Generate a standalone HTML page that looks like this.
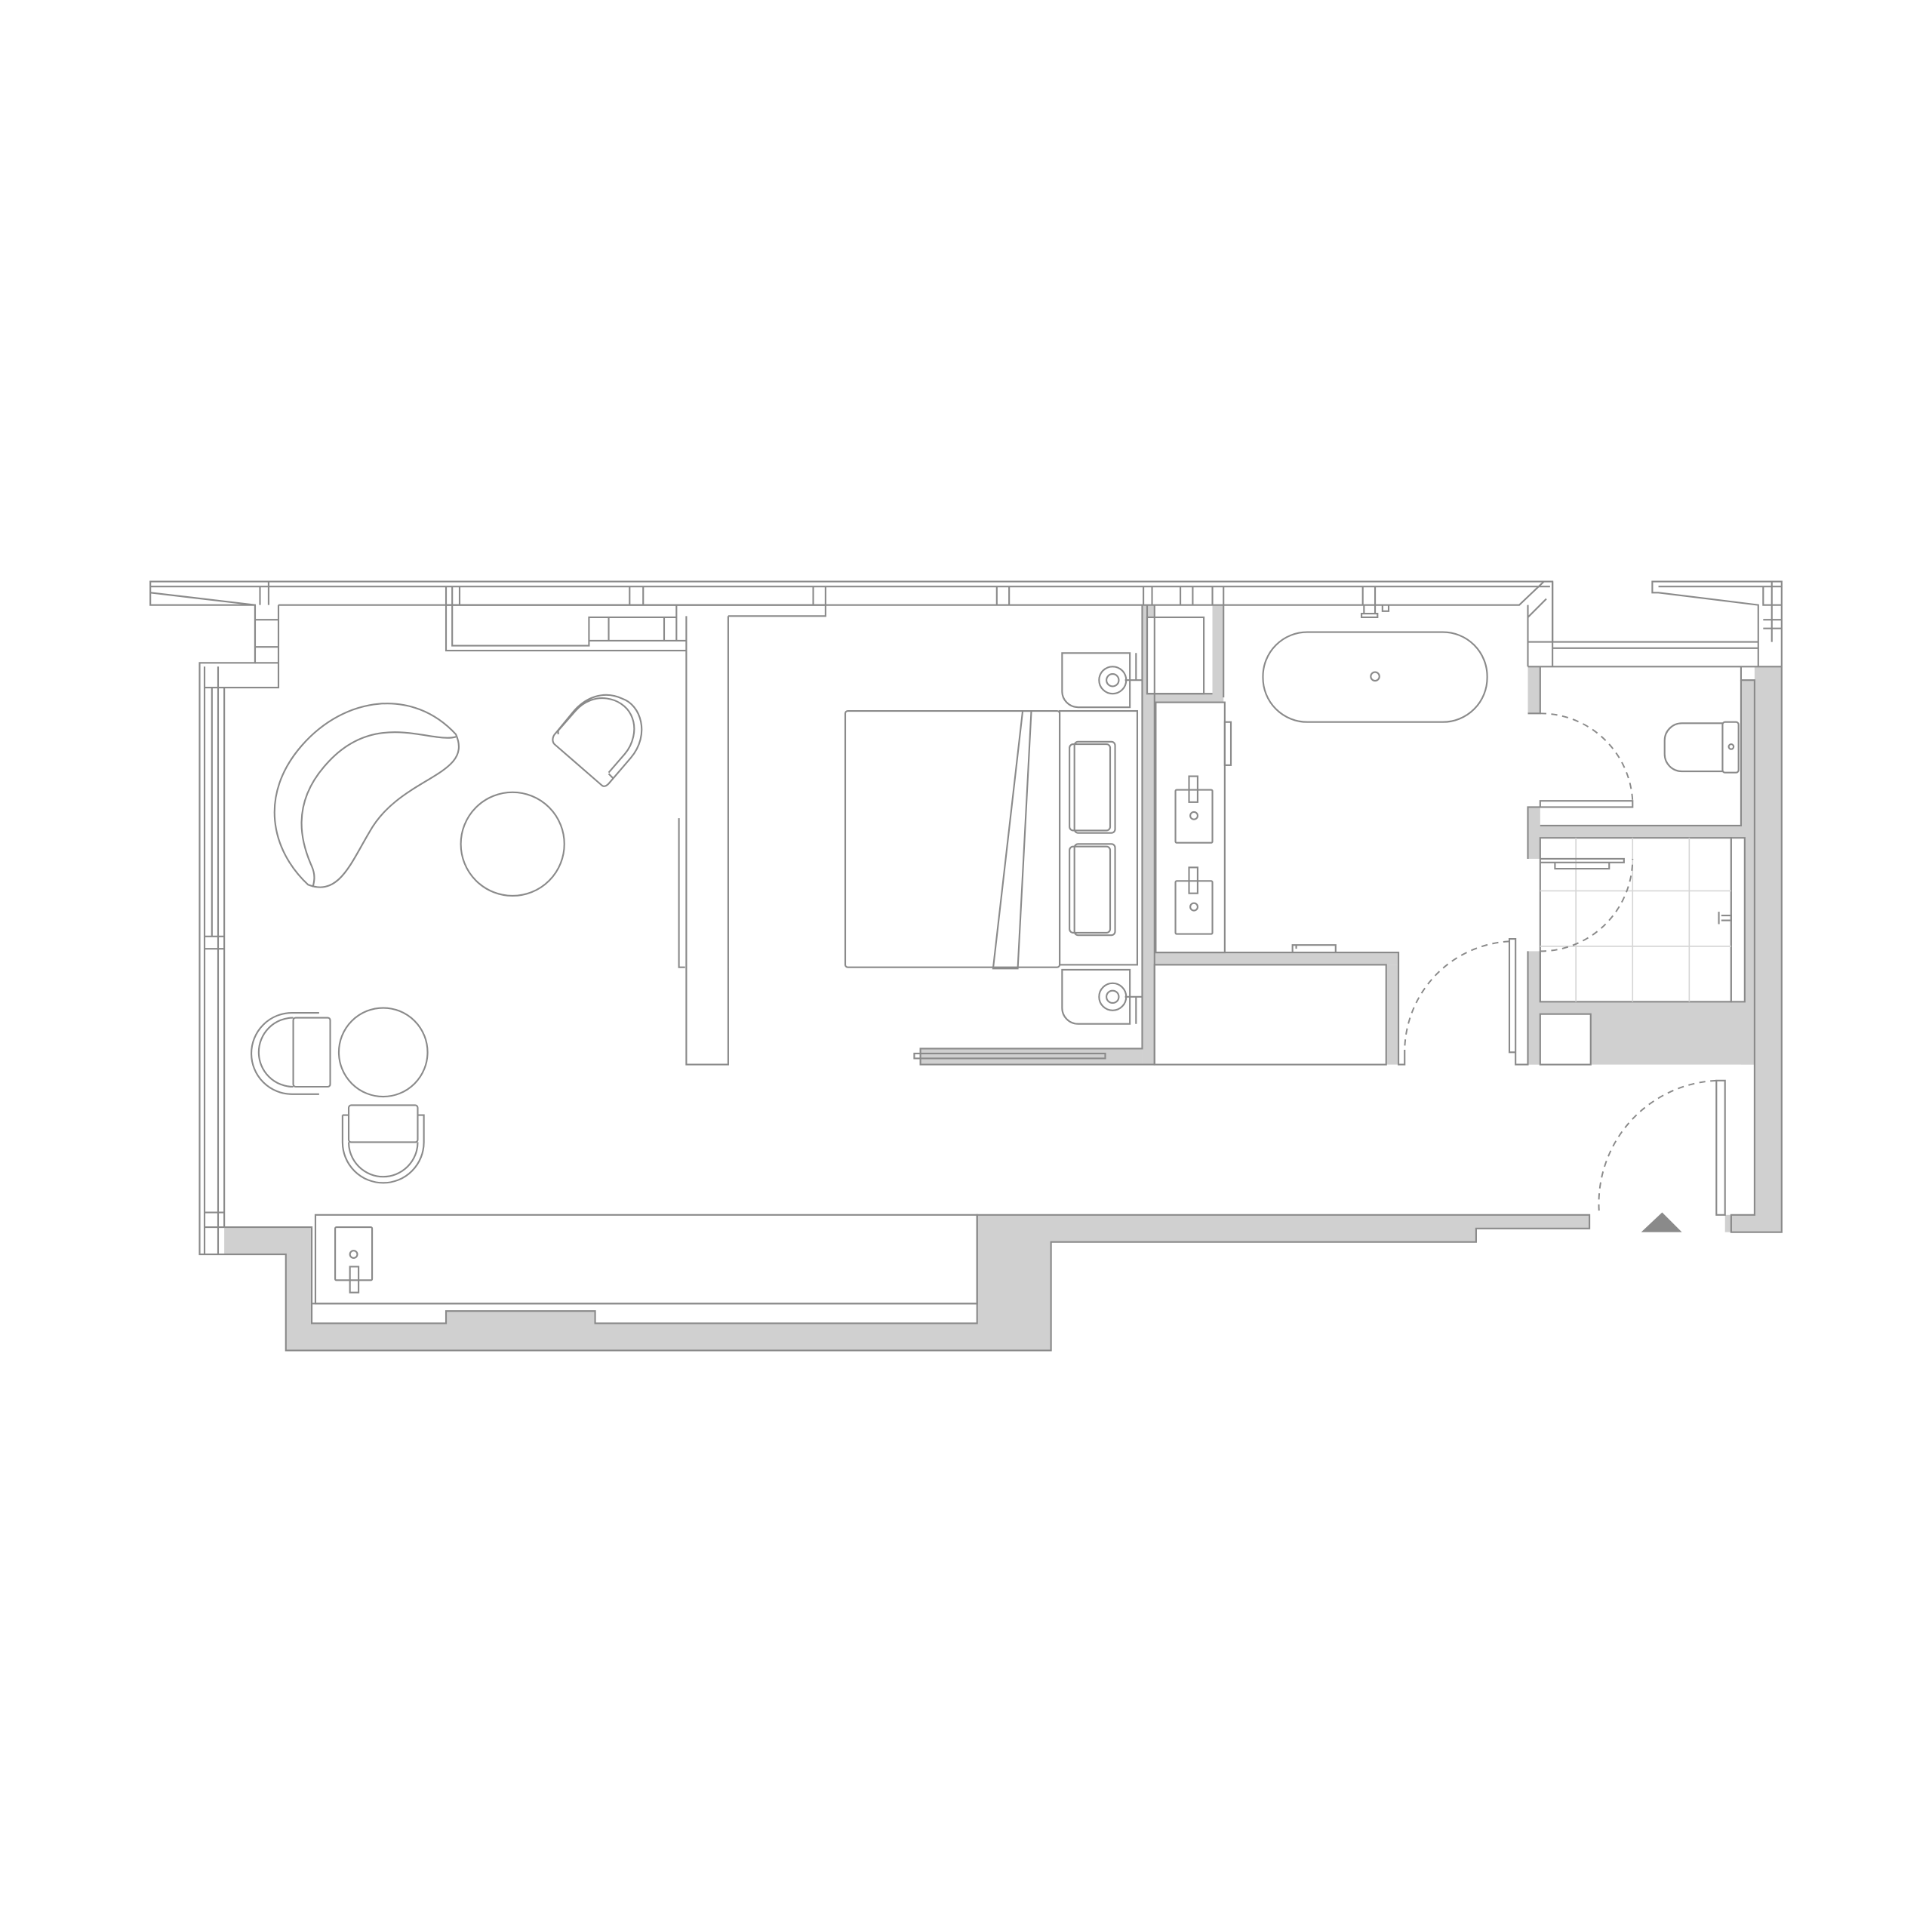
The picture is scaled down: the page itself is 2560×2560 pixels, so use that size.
<!DOCTYPE html>
<html><head><style>html,body{margin:0;padding:0;background:#fff}svg{display:block}</style></head>
<body>
<svg width="2560" height="2560" viewBox="0 0 1568 1568" xmlns="http://www.w3.org/2000/svg">
<g fill="#d0d0d0" stroke="none">
<polygon points="182,996 253,996 253,1074 362,1074 362,1064 483,1064 483,1074 793,1074 793,986 1290,986 1290,997 1198,997 1198,1008 853,1008 853,1096 232,1096 232,1018 182,1018"/>
<rect x="1424" y="541" width="22" height="459"/>
<rect x="1413" y="552" width="12" height="312"/>
<rect x="1400" y="986" width="25" height="14"/>
<rect x="1240" y="670" width="185" height="10"/>
<rect x="1240" y="655" width="10" height="42"/>
<rect x="1240" y="541" width="10" height="38"/>
<rect x="1240" y="772" width="10" height="92"/>
<rect x="1240" y="813" width="185" height="51"/>
<rect x="927" y="491" width="10" height="373"/>
<rect x="984" y="491" width="9" height="75"/>
<rect x="931" y="563" width="62" height="8"/>
<rect x="937" y="773" width="198" height="10"/>
<rect x="1125" y="783" width="10" height="81"/>
<rect x="747" y="851" width="180" height="13"/>
</g>
<g fill="#fff" stroke="#8a8a8a" stroke-width="1.3">
<rect x="1250" y="823" width="41" height="41"/>
<rect x="256" y="986" width="537" height="72"/>
<rect x="1250" y="680" width="155" height="133"/>
<rect x="1405" y="680" width="11" height="133"/>
<rect x="937" y="783" width="188" height="81"/>
<rect x="938" y="570" width="56" height="203"/>
<rect x="931" y="501" width="46" height="62"/>
</g>
<g stroke="#d6d6d6" stroke-width="1" fill="none">
<path d="M1279 680V813M1325 680V813M1371 680V813M1250 723H1405M1250 768H1405"/>
</g>
<g fill="none" stroke="#8a8a8a" stroke-width="1.3">
<path d="M182 996H253V1074H362V1064H483V1074H793V986H1290V997H1198V1008H853V1096H232V1018H162V538H207V491H122V472H1260V541M1413 541V552H1424V986H1405V1000H1446V472H1341V481H1346L1427 491V541"/>
<path d="M122 476H1258M122 481L207 491M207 491V538M226 491V558H182M182 558V996M166 541V1018M177 541V1018M166 558H182M166 760H182M166 770H182M166 984H182M166 996H182M172 558V760"/>
<path d="M207 503H226M207 525H226M207 538H226M211 476V491M218 472V491"/>
<path d="M226 491H1233L1253 472M1240 491V541M1240 501L1255 486M1260 472V521H1427M1260 526H1427M1240 521H1260M1240 541H1446M1431 476V491H1446M1438 472V521M1431 503H1446M1431 510H1446M1346 476H1446"/>
<path d="M362 476V528H557M362 491H670M367 476V491M373 476V491M367 491V524H478V501H549V520H557M478 520H549M494 501V520M539 501V520M549 491V501"/>
<path d="M511 476V491M522 476V491M660 476V491M670 476V500H591M809 476V491M819 476V491M928 476V491M935 476V491M958 476V491M968 476V491M984 476V491M993 476V491M1106 476V491M1116 476V491"/>
<path d="M557 500V864H591V500M551 664V785H556"/>
<path d="M937 491V864M927 491V851H747V864H937M742 855H897V859H742Z"/>
<path d="M993 491V566M931 491V563H984M937 773H1135V864H1140V852"/>
<path d="M1250 541V579H1240M1250 655H1240V697M1250 670H1413V552M1250 650H1325V655H1250Z"/>
<path d="M1250 697H1318V700H1250M1262 700V705H1306V700"/>
<path d="M1240 772V864H1230V854M1225 762H1230V854H1225Z"/>
<path d="M1250 772V813M1393 877H1400V986H1393Z"/>
<rect x="1025" y="513" width="182" height="73" rx="36"/>
<circle cx="1116" cy="549" r="3.5"/>
<path d="M1107 491V498H1116V491M1105 498H1118V501H1105ZM1122 491V496H1127V491"/>
<rect x="954" y="641" width="30" height="43" rx="1"/><rect x="965" y="630" width="7" height="21"/><circle cx="969" cy="662" r="3"/>
<rect x="954" y="715" width="30" height="43" rx="1"/><rect x="965" y="704" width="7" height="21"/><circle cx="969" cy="736" r="3"/>
<rect x="994" y="586" width="5" height="35"/>
<path d="M1049 773V767H1084V773M1052 767V770"/>
<path d="M1398 587H1365A14 14 0 0 0 1351 601V612A14 14 0 0 0 1365 626H1398"/>
<rect x="1398" y="586" width="13" height="41" rx="2"/><circle cx="1405" cy="606" r="2"/>
<path d="M1395 740V750M1397 743H1405V747H1397"/>
<rect x="686" y="577" width="174" height="208" rx="2"/>
<path d="M806 786L830 577H837L826 786Z"/>
<rect x="860" y="577" width="63" height="206"/>
<rect x="868" y="604" width="33" height="70" rx="3"/>
<rect x="872" y="602" width="33" height="74" rx="3"/>
<rect x="868" y="687" width="33" height="70" rx="3"/>
<rect x="872" y="685" width="33" height="74" rx="3"/>
<path d="M862 530H917V574H875A13 13 0 0 1 862 561Z"/><circle cx="903" cy="552" r="11"/><circle cx="903" cy="552" r="5"/>
<path d="M913 552H927M922 530V552"/>
<path d="M862 787H917V831H875A13 13 0 0 1 862 818Z"/><circle cx="903" cy="809" r="11"/><circle cx="903" cy="809" r="5"/>
<path d="M913 809H927M922 809V831"/>
<path d="M370 596C335 558 280 565 245 605C210 645 220 690 250 718C275 728 285 700 300 675C325 630 385 630 370 596Z"/>
<path d="M370 598C350 604 305 575 265 620C235 653 245 685 253 703C257 712 254 718 254 720"/>
<circle cx="416" cy="685" r="42"/>
<path d="M450 604L488 637C490 639 492 638 494 636L512 615C528 596 520 572 505 567C490 560 475 566 465 578L451 595C448 598 448 602 450 604Z"/>
<path d="M453 593L467 577C482 560 505 566 512 580C518 592 513 605 507 612L494 627M498 632L494 628M453 596L453 593"/>
<circle cx="311" cy="854" r="36"/>
<rect x="238" y="826" width="30" height="56" rx="2"/>
<path d="M259 822H237A33 33 0 0 0 237 888H259"/>
<path d="M238 826A28 28 0 0 0 238 882"/>
<rect x="283" y="897" width="56" height="30" rx="2"/>
<path d="M278 905V927A33 33 0 0 0 344 927V905H339M278 905H283M283 927A28 28 0 0 0 339 927"/>
<rect x="272" y="996" width="30" height="43" rx="1"/><rect x="284" y="1028" width="7" height="21"/><circle cx="287" cy="1018" r="3"/>
<path d="M253 1058H793"/>
</g>
<g fill="none" stroke="#8a8a8a" stroke-width="1.2" stroke-dasharray="5,4">
<path d="M1250 579A75 75 0 0 1 1325 650"/>
<path d="M1250 772A75 75 0 0 0 1325 697"/>
<path d="M1225 764A90 90 0 0 0 1140 852"/>
<path d="M1393 877A100 100 0 0 0 1298 986"/>
</g>
<polygon points="1332,1000 1349,984 1365,1000" fill="#8a8a8a"/>
</svg>
</body></html>
